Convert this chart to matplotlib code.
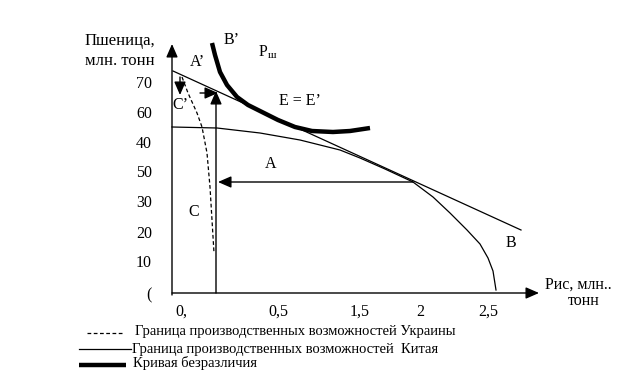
import matplotlib.pyplot as plt

plt.rcParams['font.family'] = ['Liberation Serif', 'DejaVu Serif']

# schematic drawn in picture units (x to the right, y downwards)
china_x = [172, 217, 260, 300, 340, 360, 385, 413, 433, 450, 467, 480, 488, 493, 496]
china_y = [127, 128, 133, 140, 150, 158, 169, 182, 197, 213, 230, 244, 258, 271, 290]

ukraine_x = [182, 188, 197, 202, 207, 210, 212, 214]
ukraine_y = [77, 93, 113, 127, 153, 187, 220, 253]

indiff_x = [212, 215, 220, 227, 237, 248, 262, 278, 295, 312, 333, 350, 370]
indiff_y = [43, 55, 72, 85, 97, 105, 112, 120, 127, 131, 132, 131, 128]

tangent_x = [173, 521]
tangent_y = [71, 230]

y_ticks = ['70', '60', '40', '50', '30', '20', '10', '(']
y_tick_pos = [84, 114, 144, 173, 203, 234, 263, 295]
x_ticks = ['0,', '0,5', '1,5', '2', '2,5']
x_tick_pos = [181, 278, 360, 420, 488]

legend_labels = ['Граница производственных возможностей Украины',
                 'Граница производственных возможностей  Китая',
                 'Кривая безразличия']

fig = plt.figure(figsize=(6.23, 3.82), dpi=100)
ax = fig.add_axes([0, 0, 1, 1])
ax.set_xlim(0, 623)
ax.set_ylim(382, 0)
ax.axis('off')

arrow = dict(arrowstyle='-|>,head_length=0.8,head_width=0.35', color='black', lw=1, shrinkA=0, shrinkB=0)

# axes
ax.annotate('', xy=(172, 44), xytext=(172, 295), arrowprops=arrow)
ax.annotate('', xy=(539, 293), xytext=(172, 293), arrowprops=arrow)

ax.plot(china_x, china_y, color='black', lw=0.9)
ax.plot(ukraine_x, ukraine_y, color='black', lw=0.9, ls=(0, (3, 2)))
ax.plot(tangent_x, tangent_y, color='black', lw=0.9)
ax.plot(indiff_x, indiff_y, color='black', lw=3.2, solid_capstyle='butt', solid_joinstyle='round')

# trade arrows
ax.annotate('', xy=(216, 91), xytext=(216, 293), arrowprops=arrow)
ax.annotate('', xy=(218, 182), xytext=(413, 182), arrowprops=arrow)
ax.annotate('', xy=(180, 95), xytext=(180, 77), arrowprops=arrow)
ax.annotate('', xy=(218, 93), xytext=(200, 93), arrowprops=arrow)

for lab, y in zip(y_ticks, y_tick_pos):
    ax.text(152, y, lab, ha='right', va='center', fontsize=11.5)
for lab, x in zip(x_ticks, x_tick_pos):
    ax.text(x, 312, lab, ha='center', va='center', fontsize=11.5)

ax.text(85, 41, 'Пшеница,', ha='left', va='center', fontsize=12)
ax.text(85, 61, 'млн. тонн', ha='left', va='center', fontsize=12)
ax.text(545, 285, 'Рис, млн..', ha='left', va='center', fontsize=11.5)
ax.text(568, 301, 'тонн', ha='left', va='center', fontsize=11.5)

ax.text(224, 40, 'B’', ha='left', va='center', fontsize=11.5)
ax.text(258, 52, 'Р$_{\\mathregular{ш}}$', ha='left', va='center', fontsize=11.5)
ax.text(190, 62, 'A’', ha='left', va='center', fontsize=11.5)
ax.text(172, 105, 'C’', ha='left', va='center', fontsize=11.5)
ax.text(279, 101, 'E = E’', ha='left', va='center', fontsize=11.5)
ax.text(265, 164, 'A', ha='left', va='center', fontsize=11.5)
ax.text(188, 212, 'C', ha='left', va='center', fontsize=11.5)
ax.text(506, 243, 'B', ha='left', va='center', fontsize=11.5)

# legend
ax.plot([87, 123], [333, 333], color='black', lw=0.9, ls=(0, (3, 2)))
ax.text(135, 332, legend_labels[0], ha='left', va='center', fontsize=10.5)
ax.plot([79, 131], [349, 349], color='black', lw=0.9)
ax.text(132, 349, legend_labels[1], ha='left', va='center', fontsize=10.5)
ax.plot([79, 126], [365, 365], color='black', lw=3.2, solid_capstyle='butt')
ax.text(133, 363, legend_labels[2], ha='left', va='center', fontsize=10.5)

fig.savefig('out.png', dpi=100)
